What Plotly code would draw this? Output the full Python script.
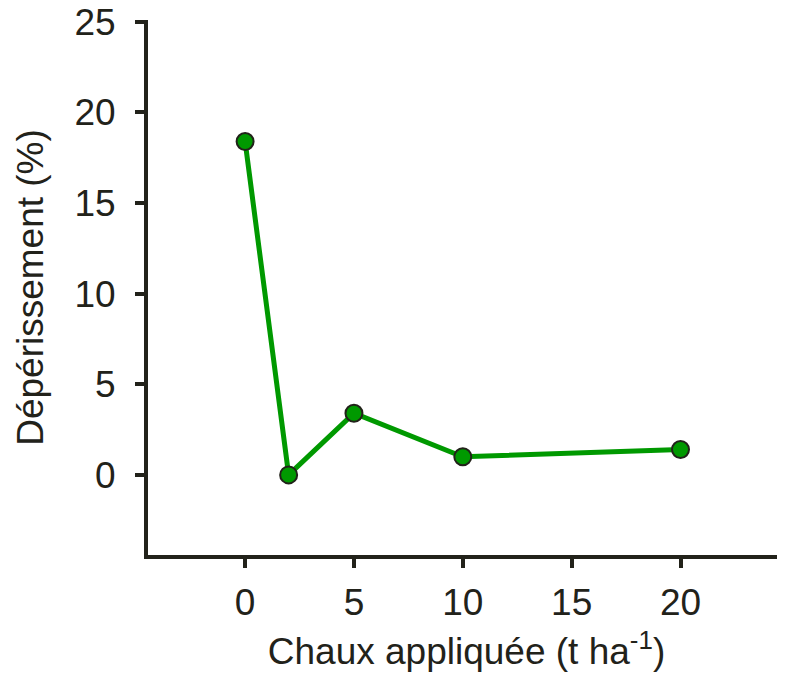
import plotly.graph_objects as go

lime = [0, 2, 5, 10, 20]
dieback = [18.4, 0.0, 3.4, 1.0, 1.4]
x_ticks = [0, 5, 10, 15, 20]
y_ticks = [0, 5, 10, 15, 20, 25]

axis_color = "#22221a"
font_family = "Liberation Sans, Arial, sans-serif"
fs = 37

fig = go.Figure()
fig.add_trace(go.Scatter(
    x=lime, y=dieback, mode="lines+markers",
    line=dict(color="#009900", width=5),
    marker=dict(size=17, color="#009900", line=dict(color="#22221a", width=2)),
    showlegend=False,
))

fig.update_layout(
    width=777, height=676,
    margin=dict(l=140, r=0, t=12, b=129),
    paper_bgcolor="white", plot_bgcolor="white",
    font=dict(family=font_family, color=axis_color, size=fs),
    xaxis=dict(
        range=[-4.46, 24.8], tickvals=x_ticks, ticktext=[str(v) for v in x_ticks],
        showgrid=False, zeroline=False, showline=True, linecolor=axis_color, linewidth=4,
        ticks="outside", ticklen=9, tickwidth=4, tickcolor=axis_color,
        tickfont=dict(size=fs, color=axis_color), ticklabelstandoff=3,
        ticklabeloverflow="allow",
        title=dict(text="Chaux appliquée (t ha<sup>-1</sup>)", font=dict(size=fs, color=axis_color), standoff=17),
        automargin=False,
    ),
    yaxis=dict(
        range=[-4.42, 25.1], tickvals=y_ticks, ticktext=[str(v) for v in y_ticks],
        showgrid=False, zeroline=False, showline=True, linecolor=axis_color, linewidth=4,
        ticks="outside", ticklen=9, tickwidth=4, tickcolor=axis_color,
        tickfont=dict(size=fs, color=axis_color), ticklabelstandoff=12,
        ticklabeloverflow="allow",
        title=dict(text="Dépérissement (%)", font=dict(size=fs, color=axis_color), standoff=20),
        automargin=False,
    ),
)

fig.write_html("out.html")
